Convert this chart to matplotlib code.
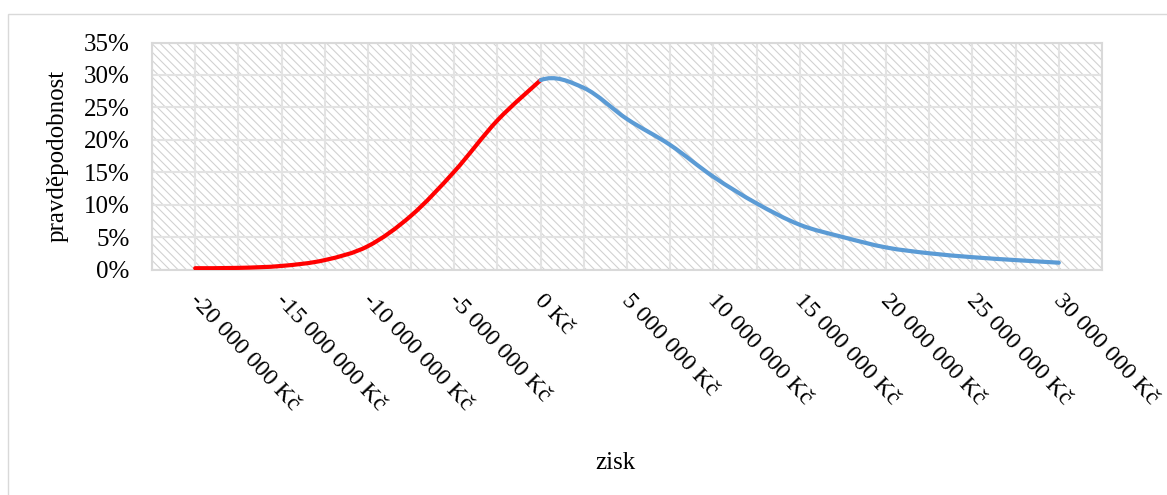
import matplotlib.pyplot as plt
import matplotlib.transforms as mtransforms
from matplotlib.path import Path
from matplotlib.patches import PathPatch, Rectangle

plt.rcParams['font.family'] = ['Liberation Serif', 'DejaVu Serif']
plt.rcParams['hatch.color'] = '#d2d2d2'
plt.rcParams['hatch.linewidth'] = 0.8

# zisk (Kč) a pravděpodobnost (%)
zisk = [-20000000, -17500000, -15000000, -12500000, -10000000, -7500000,
        -5000000, -2500000, 0, 2500000, 5000000, 7500000, 10000000,
        12500000, 15000000, 17500000, 20000000, 22500000, 25000000,
        27500000, 30000000]
pravdepodobnost = [0.2, 0.25, 0.55, 1.45, 3.6, 8.3, 15.1, 23.0, 29.2, 28.0,
                   23.2, 19.2, 14.3, 10.2, 6.9, 5.0, 3.4, 2.5, 1.9, 1.45, 1.05]
ztrata_konec = 8          # index bodu 0 Kč, kde končí červená část
x_ticks = [-20000000, -15000000, -10000000, -5000000, 0, 5000000, 10000000,
           15000000, 20000000, 25000000, 30000000]
y_ticks = [0, 5, 10, 15, 20, 25, 30, 35]


def smooth_path(xs, ys, first, last, lo, hi):
    """Bezier curve through points first..last, tangents taken from
    neighbours within lo..hi (like the smoothed line in Excel)."""
    verts = [(xs[first], ys[first])]
    codes = [Path.MOVETO]
    for i in range(first, last):
        p = max(i - 1, lo)
        n = min(i + 2, hi)
        c1 = (xs[i] + (xs[i + 1] - xs[p]) / 6, ys[i] + (ys[i + 1] - ys[p]) / 6)
        c2 = (xs[i + 1] - (xs[n] - xs[i]) / 6, ys[i + 1] - (ys[n] - ys[i]) / 6)
        verts += [c1, c2, (xs[i + 1], ys[i + 1])]
        codes += [Path.CURVE4] * 3
    return Path(verts, codes)


fig = plt.figure(figsize=(11.67, 4.95), dpi=100)
ax = fig.add_axes([152 / 1167, 1 - 269.5 / 495, 950 / 1167, 227 / 495])

# outer chart frame
fig.add_artist(Rectangle((8 / 1167, -0.1), 1.2, (495 - 14) / 495 + 0.1,
                         transform=fig.transFigure, fill=False,
                         edgecolor='#d9d9d9', lw=1))

ax.set_facecolor('white')
ax.add_patch(Rectangle((0, 0), 1, 1, transform=ax.transAxes, facecolor='white',
                       edgecolor='#d2d2d2', lw=0, hatch='\\\\\\\\', zorder=0.1))

n = len(zisk)
ax.add_patch(PathPatch(smooth_path(zisk, pravdepodobnost, 0, ztrata_konec, 0, ztrata_konec),
                       fill=False, edgecolor='#ff0000', lw=3, capstyle='round', zorder=3))
ax.add_patch(PathPatch(smooth_path(zisk, pravdepodobnost, ztrata_konec, n - 1, 0, n - 1),
                       fill=False, edgecolor='#5b9bd5', lw=3, capstyle='round', zorder=3))

ax.set_xlim(-22500000, 32500000)
ax.set_ylim(0, 35)

ax.set_xticks(x_ticks)
ax.set_xticks([v - 2500000 for v in x_ticks] + [32500000], minor=True)
ax.set_xticklabels([f"{v:,.0f}".replace(',', ' ') + ' Kč' for v in x_ticks],
                   rotation=-47, ha='left', va='top', rotation_mode='anchor')
ax.set_yticks(y_ticks)
ax.set_yticklabels([f"{v}%" for v in y_ticks])
ax.tick_params(axis='both', which='both', length=0, labelsize=18)
ax.tick_params(axis='x', labelsize=17.5, pad=15)
ax.tick_params(axis='y', pad=16)

# nudge the slanted labels a little to the right
shift = mtransforms.ScaledTranslation(4 / 72, 0, fig.dpi_scale_trans)
for lbl in ax.get_xticklabels():
    lbl.set_transform(lbl.get_transform() + shift)

ax.set_axisbelow(True)
ax.grid(True, which='both', color='#e3e3e3', lw=1.5)
for s in ax.spines.values():
    s.set_color('#d9d9d9')
    s.set_linewidth(1.5)

ax.set_ylabel('pravděpodobnost', fontsize=18)
ax.yaxis.set_label_coords(-0.088, 0.5)
ax.set_xlabel('zisk', fontsize=18)
ax.xaxis.set_label_coords(0.488, -0.805)

fig.savefig('out.png', dpi=100)
